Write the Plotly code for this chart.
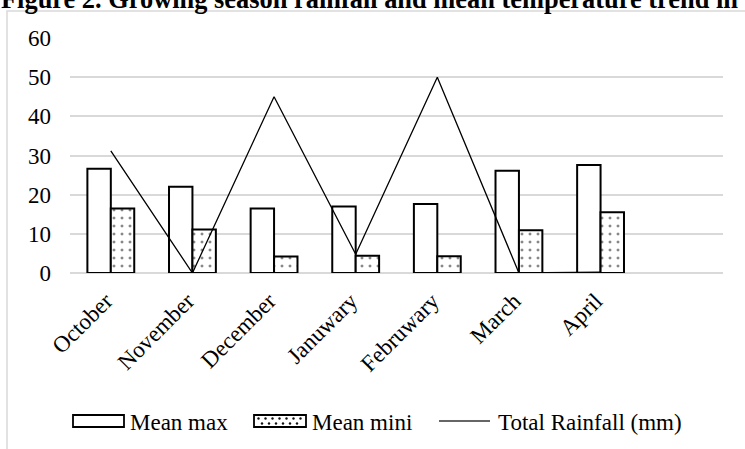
import plotly.graph_objects as go

months = ["October", "November", "December", "Januwary", "Februwary", "March", "April"]
axis_categories = months + [" "]
mean_max = [26.6, 22.0, 16.5, 17.0, 17.6, 26.1, 27.6]
mean_mini = [16.5, 11.1, 4.2, 4.4, 4.3, 10.9, 15.5]
total_rainfall = [31.2, 0.0, 45.0, 4.8, 50.0, 0.0, 0.2]
y_ticks = [0, 10, 20, 30, 40, 50, 60]
legend_names = ["Mean max", "Mean mini", "Total Rainfall (mm)"]

FONT = "Liberation Serif"
W, H = 745, 449
L, R, T, B = 70, 22, 38, 176
pw, ph = W - L - R, H - T - B

def px_x(x):
    return (x - L) / pw

def px_y(y):
    return 1 - (y - T) / ph

fig = go.Figure()
fig.add_trace(go.Bar(
    x=months, y=mean_max, name=legend_names[0],
    marker=dict(color="white", line=dict(color="black", width=2)),
))
fig.add_trace(go.Bar(
    x=months, y=mean_mini, name=legend_names[1],
    marker=dict(color="white", line=dict(color="black", width=2),
                pattern=dict(shape=".", fgcolor="#111111", bgcolor="white",
                             size=8, solidity=0.11)),
))
fig.add_trace(go.Scatter(
    x=months, y=total_rainfall, name=legend_names[2], mode="lines",
    line=dict(color="black", width=1.3),
))

fig.update_layout(
    width=W, height=H,
    margin=dict(l=L, r=R, t=T, b=B, autoexpand=False),
    paper_bgcolor="white", plot_bgcolor="white",
    font=dict(family=FONT, size=23, color="black"),
    barmode="group", bargap=0.426, bargroupgap=0,
    showlegend=False,
    xaxis=dict(type="category", categoryorder="array", categoryarray=axis_categories,
               range=[-0.5, 7.5], tickangle=-45, showgrid=False, showline=False,
               ticks="", ticklabelstandoff=9, ticklabelshift=-5,
               tickfont=dict(family=FONT, size=23, color="black")),
    yaxis=dict(range=[0, 60], tickvals=y_ticks, showgrid=True, gridcolor="#d9d9d9",
               gridwidth=1.5, zeroline=True, zerolinecolor="#d9d9d9", zerolinewidth=1.5,
               showline=False, ticks="", ticklabelstandoff=18,
               tickfont=dict(family=FONT, size=23, color="black")),
)

# chart border
fig.add_shape(type="rect", xref="paper", yref="paper",
              x0=px_x(7), x1=px_x(W + 20), y0=px_y(11), y1=px_y(H + 20),
              line=dict(color="#d9d9d9", width=1.5), fillcolor="rgba(0,0,0,0)",
              layer="below")

# title (cut off at top as in the reference)
fig.add_annotation(
    text="<b>Figure 2. Growing season rainfall and mean temperature trend in</b>",
    xref="paper", yref="paper", x=px_x(0), y=px_y(15), xanchor="left", yanchor="bottom",
    showarrow=False, font=dict(family=FONT, size=26.4, color="black"), borderpad=0,
)

# custom legend (wide swatches, like the reference)
LY = 421  # legend row centre
def paper_rect(x0, x1, y0, y1, **kw):
    fig.add_shape(type="rect", xref="paper", yref="paper",
                  x0=px_x(x0), x1=px_x(x1), y0=px_y(y1), y1=px_y(y0), **kw)

paper_rect(73, 124, LY - 6, LY + 6, line=dict(color="black", width=1.8), fillcolor="white")
paper_rect(254, 306, LY - 6, LY + 6, line=dict(color="black", width=1.8), fillcolor="white")
for row, yy in enumerate([LY - 2.5, LY + 2.5]):
    xx = 258.5 if row == 0 else 262
    while xx < 304:
        fig.add_shape(type="circle", xref="paper", yref="paper",
                      x0=px_x(xx - 1.2), x1=px_x(xx + 1.2),
                      y0=px_y(yy + 1.2), y1=px_y(yy - 1.2),
                      line=dict(width=0), fillcolor="#111111")
        xx += 7
fig.add_shape(type="line", xref="paper", yref="paper",
              x0=px_x(439), x1=px_x(490), y0=px_y(LY), y1=px_y(LY),
              line=dict(color="#333333", width=1.5))

for name, tx in zip(legend_names, [129, 311, 497]):
    fig.add_annotation(text=name, xref="paper", yref="paper",
                       x=px_x(tx), y=px_y(LY + 1), xanchor="left", yanchor="middle",
                       showarrow=False, borderpad=0,
                       font=dict(family=FONT, size=23, color="black"))

fig.write_html("out.html", config={"displayModeBar": False},
               post_script="document.body.style.margin='0';document.body.style.overflow='hidden';")
